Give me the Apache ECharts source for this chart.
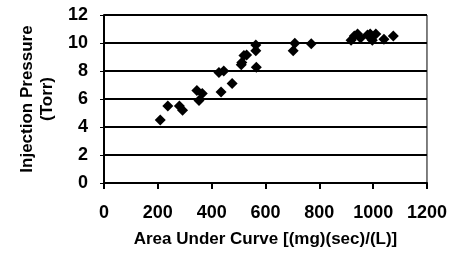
<!DOCTYPE html>
<html>
<head>
<meta charset="utf-8">
<script src="https://cdn.jsdelivr.net/npm/echarts@6/dist/echarts.min.js"></script>
<style>
  html, body { margin: 0; padding: 0; background: #fff; }
  #chart { width: 450px; height: 258px; }
</style>
</head>
<body>
<div id="chart"></div>
<script>
// area under curve (x) vs injection pressure (y)
const areaUnderCurve = [209, 237, 280, 292, 345, 353, 365, 427, 435, 445, 476, 510, 512, 520, 530,
    564, 564, 566, 703, 709, 770, 918, 930, 942, 953, 979, 989, 997, 1010, 1040, 1075];
const injectionPressure = [4.5, 5.5, 5.5, 5.2, 6.6, 5.9, 6.4, 7.9, 6.5, 8.0, 7.1, 8.45, 8.6, 9.1, 9.15,
    9.86, 9.45, 8.26, 9.45, 9.98, 9.95, 10.2, 10.5, 10.64, 10.36, 10.57, 10.64, 10.2, 10.64, 10.26, 10.5];
const xTicks = [0, 200, 400, 600, 800, 1000, 1200];
const yTicks = [0, 2, 4, 6, 8, 10, 12];

const points = areaUnderCurve.map((x, i) => [x, injectionPressure[i]]);

let chartElem = document.getElementById('chart');
let chart = echarts.init(chartElem);
chart.setOption({
    animation: false,
    textStyle: { fontFamily: 'Liberation Sans' },
    grid: {
        left: 104, right: 20, top: 15, bottom: 75,
        show: true, borderColor: '#000', borderWidth: 1
    },
    xAxis: {
        type: 'value',
        min: xTicks[0], max: xTicks[xTicks.length - 1], interval: 200,
        name: 'Area Under Curve [(mg)(sec)/(L)]',
        nameLocation: 'middle',
        nameGap: 48,
        nameTextStyle: { fontSize: 17, fontWeight: 'bold', color: '#000' },
        axisLine: { lineStyle: { color: '#000', width: 2 } },
        axisTick: { show: true, length: 6, lineStyle: { color: '#000', width: 2 } },
        axisLabel: { fontSize: 18, fontWeight: 'bold', color: '#000', margin: 21,
            formatter: v => String(v) },
        splitLine: { show: false }
    },
    yAxis: {
        type: 'value',
        min: yTicks[0], max: yTicks[yTicks.length - 1], interval: 2,
        name: 'Injection Pressure\n(Torr)',
        nameLocation: 'middle',
        nameGap: 47,
        nameRotate: 90,
        nameTextStyle: { fontSize: 17, fontWeight: 'bold', color: '#000', lineHeight: 20 },
        axisLine: { lineStyle: { color: '#000', width: 2 } },
        axisTick: { show: true, length: 4, lineStyle: { color: '#000', width: 1 } },
        axisLabel: { fontSize: 18, fontWeight: 'bold', color: '#000', margin: 16 },
        splitLine: { show: true, lineStyle: { color: '#000', width: 2 } }
    },
    series: [{
        type: 'scatter',
        data: points,
        symbol: 'diamond',
        symbolSize: 11,
        itemStyle: { color: '#000', opacity: 1 }
    }]
});
</script>
</body>
</html>
